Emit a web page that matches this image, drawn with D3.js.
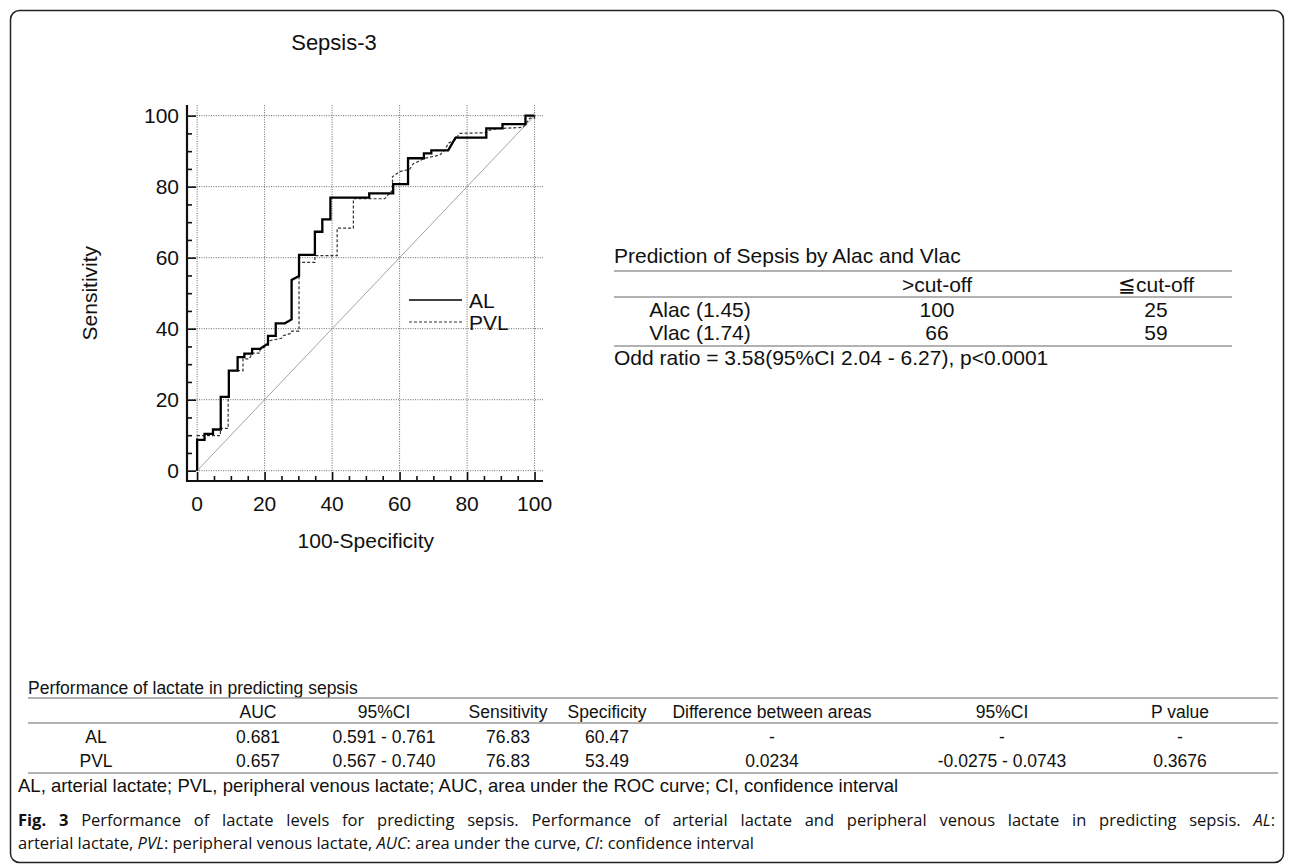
<!DOCTYPE html>
<html>
<head>
<meta charset="utf-8">
<script src="https://cdn.jsdelivr.net/npm/d3@7"></script>
<style>
  html, body { margin: 0; padding: 0; background: #fff; }
  svg { display: block; }
  text { font-family: "Liberation Sans", Arial, sans-serif; fill: #111; }
</style>
</head>
<body>
<svg id="chart" width="1292" height="864"></svg>
<script>
// ---------- data ----------
const chartTitle = "Sepsis-3";
const xTicks = [0, 20, 40, 60, 80, 100];
const yTicks = [0, 20, 40, 60, 80, 100];
const minorTicks = [5, 10, 15, 25, 30, 35, 45, 50, 55, 65, 70, 75, 85, 90, 95];

// AL ROC curve (100-Specificity, Sensitivity)
const alFPR = [0, 0, 2.2, 2.2, 4.7, 4.7, 7.0, 7.0, 9.4, 9.4, 12.0, 12.0, 14.0, 14.0, 16.3, 16.3, 18.6, 20.5, 21.0, 21.0, 23.3, 23.3, 26.0, 28.0, 28.0, 30.2, 30.2, 34.9, 34.9, 37.1, 37.1, 39.5, 39.5, 51.0, 51.0, 58.1, 58.1, 62.5, 62.5, 67.2, 67.2, 69.4, 69.4, 74.4, 76.6, 85.7, 85.7, 90.5, 90.5, 97.3, 97.3, 100];
const alTPR = [0, 8.7, 8.7, 10.4, 10.4, 11.6, 11.6, 20.8, 20.8, 28.2, 28.2, 32.0, 32.0, 33.0, 33.0, 34.3, 34.3, 35.5, 35.5, 38.0, 38.0, 41.5, 41.5, 42.6, 53.7, 54.8, 60.8, 60.8, 67.3, 67.3, 70.8, 70.8, 76.9, 76.9, 78.1, 78.1, 80.7, 80.7, 88.0, 88.0, 89.4, 89.4, 90.2, 90.2, 93.8, 93.8, 96.4, 96.4, 97.6, 97.6, 100, 100];

// PVL ROC curve
const pvlFPR = [0, 0, 6.9, 6.9, 9.2, 9.2, 9.4, 9.4, 13.6, 13.6, 15.5, 16.3, 18.6, 18.6, 20.4, 21.5, 25.0, 25.5, 27.8, 28.0, 30.2, 30.2, 34.9, 34.9, 41.5, 41.5, 46.3, 46.3, 55.6, 57.9, 57.9, 59.9, 63.0, 64.0, 67.5, 71.9, 73.4, 74.4, 76.4, 77.8, 85.7, 86.2, 88.2, 90.2, 96.6, 98.6, 100, 100];
const pvlTPR = [0, 9.9, 9.9, 11.9, 11.9, 20.5, 20.5, 28.2, 28.2, 31.5, 31.5, 33.1, 33.1, 34.0, 35.1, 36.6, 37.3, 38.0, 38.7, 39.3, 39.3, 58.7, 58.7, 60.6, 60.6, 68.3, 68.3, 76.6, 76.6, 79.0, 82.8, 84.2, 84.9, 86.4, 88.0, 88.9, 90.3, 92.2, 93.2, 95.0, 95.2, 95.8, 96.2, 96.4, 96.7, 99.3, 99.3, 100];

const seriesNames = ["AL", "PVL"];
const xLabel = "100-Specificity";
const yLabel = "Sensitivity";

// Prediction table
const predTitle = "Prediction of Sepsis by Alac and Vlac";
const predHeaders = [">cut-off", "\u2266cut-off"];
const predRowLabels = ["Alac (1.45)", "Vlac (1.74)"];
const predAbove = ["100", "66"];
const predBelow = ["25", "59"];
const predNote = "Odd ratio = 3.58(95%CI 2.04 - 6.27), p<0.0001";

// Performance table
const perfTitle = "Performance of lactate in predicting sepsis";
const perfHeaders = ["", "AUC", "95%CI", "Sensitivity", "Specificity", "Difference between areas", "95%CI", "P value"];
const perfAL = ["AL", "0.681", "0.591 - 0.761", "76.83", "60.47", "-", "-", "-"];
const perfPVL = ["PVL", "0.657", "0.567 - 0.740", "76.83", "53.49", "0.0234", "-0.0275 - 0.0743", "0.3676"];
const footnote = "AL, arterial lactate; PVL, peripheral venous lactate; AUC, area under the ROC curve; CI, confidence interval";

// ---------- drawing ----------
const svg = d3.select("#chart");

// frame
svg.append("rect").attr("x", 10.5).attr("y", 10.5).attr("width", 1273).attr("height", 852)
  .attr("rx", 9).attr("fill", "none").attr("stroke", "#222").attr("stroke-width", 1.5);

const x = d3.scaleLinear().domain([-3, 102.5]).range([187, 543]);
const y = d3.scaleLinear().domain([-2.9, 103]).range([481, 105]);

const g = svg.append("g");

// grid
g.selectAll(".gx").data(xTicks).join("line")
  .attr("x1", d => x(d)).attr("x2", d => x(d)).attr("y1", y.range()[1]).attr("y2", y.range()[0])
  .attr("stroke", "#666").attr("stroke-width", 1).attr("stroke-dasharray", "1,1.4");
g.selectAll(".gy").data(yTicks).join("line")
  .attr("y1", d => y(d)).attr("y2", d => y(d)).attr("x1", x.range()[0]).attr("x2", x.range()[1])
  .attr("stroke", "#666").attr("stroke-width", 1).attr("stroke-dasharray", "1,1.4");

// diagonal
g.append("line").attr("x1", x(0)).attr("y1", y(0)).attr("x2", x(100)).attr("y2", y(100))
  .attr("stroke", "#999").attr("stroke-width", 0.9);

// axes (inward ticks)
const axisLeft = d3.axisRight(y).tickValues(yTicks).tickSize(9).tickFormat("");
const axisLeftMinor = d3.axisRight(y).tickValues(minorTicks).tickSize(5).tickFormat("");
const axisBottom = d3.axisTop(x).tickValues(xTicks).tickSize(9).tickFormat("");
const axisBottomMinor = d3.axisTop(x).tickValues(minorTicks).tickSize(5).tickFormat("");

function styleAxis(sel) {
  sel.select(".domain").remove();
  sel.selectAll(".tick line").attr("stroke", "#111").attr("stroke-width", 1.6);
}
g.append("g").attr("transform", `translate(${x.range()[0]},0)`).call(axisLeft).call(styleAxis);
g.append("g").attr("transform", `translate(${x.range()[0]},0)`).call(axisLeftMinor).call(styleAxis);
g.append("g").attr("transform", `translate(0,${y.range()[0]})`).call(axisBottom).call(styleAxis);
g.append("g").attr("transform", `translate(0,${y.range()[0]})`).call(axisBottomMinor).call(styleAxis);

g.append("line").attr("x1", x.range()[0]).attr("x2", x.range()[0]).attr("y1", y.range()[1]).attr("y2", y.range()[0] + 1)
  .attr("stroke", "#111").attr("stroke-width", 2.2);
g.append("line").attr("x1", x.range()[0] - 1).attr("x2", x.range()[1]).attr("y1", y.range()[0]).attr("y2", y.range()[0])
  .attr("stroke", "#111").attr("stroke-width", 2.2);

// tick labels
g.selectAll(".yl").data(yTicks).join("text")
  .attr("x", 179).attr("y", d => y(d)).attr("dy", "0.36em").attr("text-anchor", "end")
  .attr("font-size", 21).text(d => d);
g.selectAll(".xl").data(xTicks).join("text")
  .attr("x", d => x(d)).attr("y", 511).attr("text-anchor", "middle")
  .attr("font-size", 21).text(d => d);

// axis titles
svg.append("text").attr("x", (x(0) + x(100)) / 2).attr("y", 548).attr("text-anchor", "middle")
  .attr("font-size", 21).text(xLabel);
svg.append("text").attr("transform", `translate(97,${(y(0) + y(100)) / 2}) rotate(-90)`)
  .attr("text-anchor", "middle").attr("font-size", 21).text(yLabel);
svg.append("text").attr("x", 334).attr("y", 50).attr("text-anchor", "middle")
  .attr("font-size", 22).text(chartTitle);

// curves
const line = d3.line().x(d => x(d[0])).y(d => y(d[1]));
g.append("path").datum(pvlFPR.map((v, i) => [v, pvlTPR[i]])).attr("d", line)
  .attr("fill", "none").attr("stroke", "#333").attr("stroke-width", 1.2).attr("stroke-dasharray", "3,2");
g.append("path").datum(alFPR.map((v, i) => [v, alTPR[i]])).attr("d", line)
  .attr("fill", "none").attr("stroke", "#000").attr("stroke-width", 2.3);

// legend
const leg = svg.append("g");
seriesNames.forEach((name, i) => {
  const ly = 300 + i * 22;
  leg.append("line").attr("x1", 409).attr("x2", 462).attr("y1", ly).attr("y2", ly)
    .attr("stroke", i === 0 ? "#000" : "#333").attr("stroke-width", i === 0 ? 1.3 : 1.1)
    .attr("stroke-dasharray", i === 0 ? null : "3,2");
  leg.append("text").attr("x", 469).attr("y", ly).attr("dy", "0.36em").attr("font-size", 21).text(name);
});

// ---------- prediction table ----------
const pt = svg.append("g");
const pL = 614, pR = 1232;
const pfs = 21;
pt.append("text").attr("x", pL).attr("y", 263).attr("font-size", pfs).text(predTitle);
[271, 297, 346].forEach(ly => pt.append("line").attr("x1", pL).attr("x2", pR).attr("y1", ly).attr("y2", ly)
  .attr("stroke", "#999").attr("stroke-width", 1.6));
const predCols = [937, 1156];
predHeaders.forEach((h, i) => pt.append("text").attr("x", predCols[i]).attr("y", 292).attr("text-anchor", "middle").attr("font-size", pfs).text(h));
predRowLabels.forEach((r, i) => {
  const ry = 317 + i * 23;
  pt.append("text").attr("x", 700).attr("y", ry).attr("text-anchor", "middle").attr("font-size", pfs).text(r);
  pt.append("text").attr("x", predCols[0]).attr("y", ry).attr("text-anchor", "middle").attr("font-size", pfs).text(predAbove[i]);
  pt.append("text").attr("x", predCols[1]).attr("y", ry).attr("text-anchor", "middle").attr("font-size", pfs).text(predBelow[i]);
});
pt.append("text").attr("x", pL).attr("y", 365).attr("font-size", pfs).text(predNote);

// ---------- performance table ----------
const tb = svg.append("g");
const tL = 28, tR = 1278;
const tfs = 17.5;
const colX = [96, 258, 384, 508, 607, 772, 1002, 1180];
tb.append("text").attr("x", tL).attr("y", 694).attr("font-size", tfs).text(perfTitle);
[698, 723, 773].forEach(ly => tb.append("line").attr("x1", tL).attr("x2", tR)
  .attr("y1", ly).attr("y2", ly).attr("stroke", "#999").attr("stroke-width", 1.6));
[perfHeaders, perfAL, perfPVL].forEach((row, ri) => {
  const ry = 718 + ri * 24.5;
  row.forEach((c, ci) => tb.append("text").attr("x", colX[ci]).attr("y", ry).attr("text-anchor", "middle")
    .attr("font-size", tfs).text(c));
});
tb.append("text").attr("x", 18).attr("y", 792).attr("font-size", 18.5).text(footnote);

// ---------- caption (line 1 justified) ----------
const capFont = "'Open Sans', sans-serif";
const capSize = 16.5;
const cap1 = svg.append("text").attr("x", 18).attr("y", 826).attr("font-size", capSize)
  .style("font-family", capFont);
cap1.append("tspan").attr("font-weight", "bold").text("Fig. 3");
cap1.append("tspan").text(" Performance of lactate levels for predicting sepsis. Performance of arterial lactate and peripheral venous lactate in predicting sepsis. ");
cap1.append("tspan").attr("font-style", "italic").text("AL");
cap1.append("tspan").text(":");
const natural = cap1.node().getComputedTextLength();
const spaces = (cap1.text().match(/ /g) || []).length;
const target = 1275 - 18;
if (natural < target && spaces > 0) cap1.attr("word-spacing", (target - natural) / spaces);

const cap2 = svg.append("text").attr("x", 18).attr("y", 849).attr("font-size", capSize)
  .style("font-family", capFont);
cap2.append("tspan").text("arterial lactate, ");
cap2.append("tspan").attr("font-style", "italic").text("PVL");
cap2.append("tspan").text(": peripheral venous lactate, ");
cap2.append("tspan").attr("font-style", "italic").text("AUC");
cap2.append("tspan").text(": area under the curve, ");
cap2.append("tspan").attr("font-style", "italic").text("CI");
cap2.append("tspan").text(": confidence interval");
</script>
</body>
</html>
